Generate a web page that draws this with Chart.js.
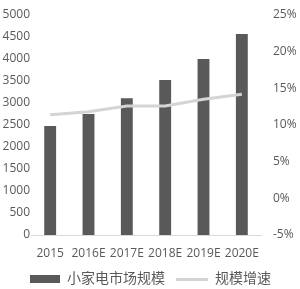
<!DOCTYPE html>
<html><head><meta charset="utf-8">
<script src="https://cdn.jsdelivr.net/npm/chart.js@4"></script>
<style>html,body{margin:0;padding:0;background:#fff}canvas{display:block}</style>
</head><body>
<canvas id="c" width="300" height="289"></canvas>
<script>
const categories = ['2015','2016E','2017E','2018E','2019E','2020E'];
const marketSize = [2480, 2750, 3110, 3520, 4000, 4570];
const growthPct = [11.4, 11.8, 12.6, 12.6, 13.5, 14.2];
const seriesNames = ['小家电市场规模', '规模增速'];

const TXT = '#595959';
const BAR = '#595959';
const LINE = '#d4d4d4';
const FONT = '"Open Sans", "Noto Sans CJK SC", sans-serif';

function swatch(w, h, color) {
  const cv = document.createElement('canvas');
  cv.width = w; cv.height = h;
  const g = cv.getContext('2d');
  g.fillStyle = color; g.fillRect(0, 0, w, h);
  return cv;
}
const barSw = swatch(30, 8, BAR);
const lineSw = swatch(32, 3, LINE);

const legendHeightPlugin = {
  id: 'legendHeight',
  beforeLayout(chart) {
    const lg = chart.legend;
    if (lg && !lg._patched) {
      const f = lg.fit.bind(lg);
      lg.fit = function () { f(); this.height = 29; };
      lg._patched = true;
    }
  }
};

new Chart(document.getElementById('c'), {
  plugins: [legendHeightPlugin],
  data: {
    labels: categories,
    datasets: [
      { type: 'bar', label: seriesNames[0], data: marketSize, backgroundColor: BAR,
        yAxisID: 'y', order: 1, barPercentage: 0.31, categoryPercentage: 1 },
      { type: 'line', label: seriesNames[1], data: growthPct, borderColor: LINE,
        backgroundColor: LINE, borderWidth: 3, pointRadius: 0, tension: 0,
        yAxisID: 'y2', order: 0 }
    ]
  },
  options: {
    responsive: false,
    animation: false,
    devicePixelRatio: 1,
    layout: { padding: { top: 15, left: 0, right: 0, bottom: 0 } },
    plugins: {
      tooltip: { enabled: false },
      legend: {
        position: 'bottom',
        labels: {
          usePointStyle: true,
          pointStyleWidth: 31,
          boxHeight: 8,
          padding: 12,
          color: TXT,
          font: { family: FONT, size: 14 },
          generateLabels(chart) {
            return chart.data.datasets.map((ds, i) => ({
              text: ds.label, fontColor: TXT, datasetIndex: i,
              pointStyle: i === 0 ? barSw : lineSw, hidden: false, lineWidth: 0
            }));
          }
        }
      }
    },
    scales: {
      x: {
        grid: { display: false, drawTicks: false },
        border: { display: true, color: '#d9d9d9', width: 1 },
        ticks: { color: TXT, font: { family: FONT, size: 12 }, padding: 11, maxRotation: 0, autoSkip: false },
        afterFit(s) { s.height = 25; s.paddingLeft = 0; s.paddingRight = 0; }
      },
      y: {
        position: 'left', min: 0, max: 5000,
        grid: { display: false, drawTicks: false },
        border: { display: false },
        ticks: { stepSize: 500, color: TXT, font: { family: FONT, size: 12 }, padding: 1,
          callback: v => String(v) },
        afterFit(s) { s.width = 31; s.paddingTop = 0; s.paddingBottom = 0; }
      },
      y2: {
        position: 'right', min: -5, max: 25,
        grid: { display: false, drawTicks: false },
        border: { display: false },
        ticks: { stepSize: 5, color: TXT, font: { family: FONT, size: 12 }, padding: 12,
          callback: v => v + '%' },
        afterFit(s) { s.width = 39; s.paddingTop = 0; s.paddingBottom = 0; }
      }
    }
  }
});
</script>
</body></html>
